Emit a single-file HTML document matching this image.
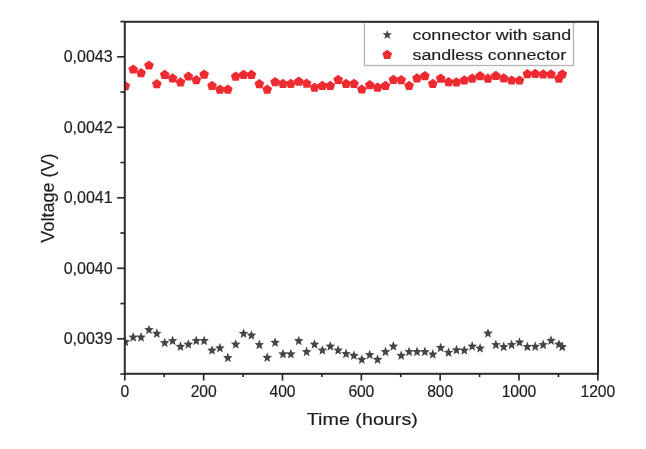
<!DOCTYPE html>
<html><head><meta charset="utf-8"><style>
html,body{margin:0;padding:0;background:#fff;}
svg{display:block;filter:blur(0.35px);}
text{font-family:"Liberation Sans",sans-serif;fill:#1e1e1e;stroke:#1e1e1e;stroke-width:0.18px;}
</style></head><body>
<svg width="646" height="449" viewBox="0 0 646 449">
<defs>
<clipPath id="pc"><rect x="125" y="22" width="473" height="352"/></clipPath>
<path id="st" d="M0.00,-4.84 L1.29,-1.39 L4.76,-1.14 L2.09,1.24 L2.94,4.84 L0.00,2.86 L-2.94,4.84 L-2.09,1.24 L-4.76,-1.14 L-1.29,-1.39Z"/>
<path id="pt" d="M0.00,-4.61 L4.85,-1.09 L3.00,4.61 L-3.00,4.61 L-4.85,-1.09Z"/>
</defs>
<rect width="646" height="449" fill="#fff"/>

<g clip-path="url(#pc)">
<g fill="#ef2b32">
<use href="#pt" x="125.30" y="85.60"/>
<use href="#pt" x="133.18" y="69.00"/>
<use href="#pt" x="141.07" y="72.60"/>
<use href="#pt" x="148.95" y="65.00"/>
<use href="#pt" x="156.84" y="83.70"/>
<use href="#pt" x="164.72" y="74.40"/>
<use href="#pt" x="172.60" y="77.90"/>
<use href="#pt" x="180.49" y="81.80"/>
<use href="#pt" x="188.37" y="76.00"/>
<use href="#pt" x="196.26" y="79.70"/>
<use href="#pt" x="204.14" y="74.20"/>
<use href="#pt" x="212.02" y="85.30"/>
<use href="#pt" x="219.91" y="89.20"/>
<use href="#pt" x="227.79" y="89.20"/>
<use href="#pt" x="235.68" y="76.20"/>
<use href="#pt" x="243.56" y="74.30"/>
<use href="#pt" x="251.44" y="74.30"/>
<use href="#pt" x="259.33" y="83.60"/>
<use href="#pt" x="267.21" y="89.20"/>
<use href="#pt" x="275.10" y="81.60"/>
<use href="#pt" x="282.98" y="83.30"/>
<use href="#pt" x="290.86" y="83.30"/>
<use href="#pt" x="298.75" y="81.20"/>
<use href="#pt" x="306.63" y="83.20"/>
<use href="#pt" x="314.52" y="87.20"/>
<use href="#pt" x="322.40" y="85.30"/>
<use href="#pt" x="330.28" y="85.30"/>
<use href="#pt" x="338.17" y="79.40"/>
<use href="#pt" x="346.05" y="83.30"/>
<use href="#pt" x="353.94" y="83.30"/>
<use href="#pt" x="361.82" y="89.00"/>
<use href="#pt" x="369.70" y="84.70"/>
<use href="#pt" x="377.59" y="87.20"/>
<use href="#pt" x="385.47" y="85.30"/>
<use href="#pt" x="393.36" y="79.30"/>
<use href="#pt" x="401.24" y="79.70"/>
<use href="#pt" x="409.12" y="85.30"/>
<use href="#pt" x="417.01" y="77.90"/>
<use href="#pt" x="424.89" y="75.60"/>
<use href="#pt" x="432.78" y="83.40"/>
<use href="#pt" x="440.66" y="78.20"/>
<use href="#pt" x="448.54" y="81.70"/>
<use href="#pt" x="456.43" y="81.90"/>
<use href="#pt" x="464.31" y="79.90"/>
<use href="#pt" x="472.20" y="78.20"/>
<use href="#pt" x="480.08" y="75.70"/>
<use href="#pt" x="487.96" y="78.20"/>
<use href="#pt" x="495.85" y="75.40"/>
<use href="#pt" x="503.73" y="77.80"/>
<use href="#pt" x="511.62" y="80.00"/>
<use href="#pt" x="519.50" y="80.00"/>
<use href="#pt" x="527.38" y="73.70"/>
<use href="#pt" x="535.27" y="73.40"/>
<use href="#pt" x="543.15" y="73.80"/>
<use href="#pt" x="551.04" y="73.80"/>
<use href="#pt" x="558.92" y="78.20"/>
<use href="#pt" x="562.30" y="73.90"/>
</g>
<g fill="#454545">
<use href="#st" x="125.30" y="341.50"/>
<use href="#st" x="133.18" y="336.80"/>
<use href="#st" x="141.07" y="336.80"/>
<use href="#st" x="148.95" y="329.50"/>
<use href="#st" x="156.84" y="333.10"/>
<use href="#st" x="164.72" y="342.50"/>
<use href="#st" x="172.60" y="340.30"/>
<use href="#st" x="180.49" y="346.20"/>
<use href="#st" x="188.37" y="344.00"/>
<use href="#st" x="196.26" y="340.30"/>
<use href="#st" x="204.14" y="340.30"/>
<use href="#st" x="212.02" y="350.00"/>
<use href="#st" x="219.91" y="347.70"/>
<use href="#st" x="227.79" y="357.40"/>
<use href="#st" x="235.68" y="344.00"/>
<use href="#st" x="243.56" y="333.10"/>
<use href="#st" x="251.44" y="335.00"/>
<use href="#st" x="259.33" y="344.30"/>
<use href="#st" x="267.21" y="357.20"/>
<use href="#st" x="275.10" y="342.10"/>
<use href="#st" x="282.98" y="353.70"/>
<use href="#st" x="290.86" y="353.70"/>
<use href="#st" x="298.75" y="340.50"/>
<use href="#st" x="306.63" y="351.40"/>
<use href="#st" x="314.52" y="344.00"/>
<use href="#st" x="322.40" y="350.00"/>
<use href="#st" x="330.28" y="345.90"/>
<use href="#st" x="338.17" y="349.80"/>
<use href="#st" x="346.05" y="353.30"/>
<use href="#st" x="353.94" y="355.20"/>
<use href="#st" x="361.82" y="359.20"/>
<use href="#st" x="369.70" y="354.50"/>
<use href="#st" x="377.59" y="359.20"/>
<use href="#st" x="385.47" y="351.40"/>
<use href="#st" x="393.36" y="345.90"/>
<use href="#st" x="401.24" y="355.20"/>
<use href="#st" x="409.12" y="351.30"/>
<use href="#st" x="417.01" y="351.40"/>
<use href="#st" x="424.89" y="351.40"/>
<use href="#st" x="432.78" y="353.90"/>
<use href="#st" x="440.66" y="347.30"/>
<use href="#st" x="448.54" y="352.10"/>
<use href="#st" x="456.43" y="349.60"/>
<use href="#st" x="464.31" y="350.00"/>
<use href="#st" x="472.20" y="345.90"/>
<use href="#st" x="480.08" y="347.90"/>
<use href="#st" x="487.96" y="333.00"/>
<use href="#st" x="495.85" y="344.30"/>
<use href="#st" x="503.73" y="346.30"/>
<use href="#st" x="511.62" y="344.30"/>
<use href="#st" x="519.50" y="342.00"/>
<use href="#st" x="527.38" y="346.30"/>
<use href="#st" x="535.27" y="346.10"/>
<use href="#st" x="543.15" y="344.30"/>
<use href="#st" x="551.04" y="340.10"/>
<use href="#st" x="558.92" y="344.00"/>
<use href="#st" x="562.30" y="346.30"/>
</g></g>
<rect x="364.5" y="22" width="209" height="43.5" fill="#fff" stroke="#b4b4b4" stroke-width="1.3"/>
<path d="M0.00,-4.52 L1.20,-1.18 L4.76,-1.07 L1.95,1.11 L2.94,4.52 L0.00,2.53 L-2.94,4.52 L-1.95,1.11 L-4.76,-1.07 L-1.20,-1.18Z" transform="translate(387.2,34.4)" fill="#454545"/>
<path d="M0.00,-4.61 L4.85,-1.09 L3.00,4.61 L-3.00,4.61 L-4.85,-1.09Z" transform="translate(387.2,54.4)" fill="#ef2b32"/>
<text transform="translate(412.5,40) scale(1.152,1)" font-size="15.5">connector with sand</text>
<text transform="translate(412.5,59.5) scale(1.152,1)" font-size="15.5">sandless connector</text>
<g stroke="#2b2b2b" stroke-width="2" fill="none">
<rect x="124.8" y="21.8" width="473.2" height="352"/>
<line x1="120.4" y1="21.55" x2="124.8" y2="21.55" stroke-width="1.7"/>
<line x1="117.1" y1="56.80" x2="124.8" y2="56.80" stroke-width="1.7"/>
<line x1="120.4" y1="92.05" x2="124.8" y2="92.05" stroke-width="1.7"/>
<line x1="117.1" y1="127.30" x2="124.8" y2="127.30" stroke-width="1.7"/>
<line x1="120.4" y1="162.55" x2="124.8" y2="162.55" stroke-width="1.7"/>
<line x1="117.1" y1="197.80" x2="124.8" y2="197.80" stroke-width="1.7"/>
<line x1="120.4" y1="233.05" x2="124.8" y2="233.05" stroke-width="1.7"/>
<line x1="117.1" y1="268.30" x2="124.8" y2="268.30" stroke-width="1.7"/>
<line x1="120.4" y1="303.55" x2="124.8" y2="303.55" stroke-width="1.7"/>
<line x1="117.1" y1="338.80" x2="124.8" y2="338.80" stroke-width="1.7"/>
<line x1="120.4" y1="374.05" x2="124.8" y2="374.05" stroke-width="1.7"/>
<line x1="124.80" y1="373.8" x2="124.80" y2="380.6" stroke-width="1.7"/>
<line x1="164.22" y1="373.8" x2="164.22" y2="377.1" stroke-width="1.7"/>
<line x1="203.64" y1="373.8" x2="203.64" y2="380.6" stroke-width="1.7"/>
<line x1="243.06" y1="373.8" x2="243.06" y2="377.1" stroke-width="1.7"/>
<line x1="282.48" y1="373.8" x2="282.48" y2="380.6" stroke-width="1.7"/>
<line x1="321.90" y1="373.8" x2="321.90" y2="377.1" stroke-width="1.7"/>
<line x1="361.32" y1="373.8" x2="361.32" y2="380.6" stroke-width="1.7"/>
<line x1="400.74" y1="373.8" x2="400.74" y2="377.1" stroke-width="1.7"/>
<line x1="440.16" y1="373.8" x2="440.16" y2="380.6" stroke-width="1.7"/>
<line x1="479.58" y1="373.8" x2="479.58" y2="377.1" stroke-width="1.7"/>
<line x1="519.00" y1="373.8" x2="519.00" y2="380.6" stroke-width="1.7"/>
<line x1="558.42" y1="373.8" x2="558.42" y2="377.1" stroke-width="1.7"/>
<line x1="597.84" y1="373.8" x2="597.84" y2="380.6" stroke-width="1.7"/>
</g>
<text x="112.6" y="62.0" font-size="16" text-anchor="end" letter-spacing="0">0,0043</text>
<text x="112.6" y="132.5" font-size="16" text-anchor="end" letter-spacing="0">0,0042</text>
<text x="112.6" y="203.0" font-size="16" text-anchor="end" letter-spacing="0">0,0041</text>
<text x="112.6" y="273.5" font-size="16" text-anchor="end" letter-spacing="0">0,0040</text>
<text x="112.6" y="344.0" font-size="16" text-anchor="end" letter-spacing="0">0,0039</text>
<text x="124.80" y="397" font-size="15.7" text-anchor="middle" letter-spacing="-0.1">0</text>
<text x="203.64" y="397" font-size="15.7" text-anchor="middle" letter-spacing="-0.1">200</text>
<text x="282.48" y="397" font-size="15.7" text-anchor="middle" letter-spacing="-0.1">400</text>
<text x="361.32" y="397" font-size="15.7" text-anchor="middle" letter-spacing="-0.1">600</text>
<text x="440.16" y="397" font-size="15.7" text-anchor="middle" letter-spacing="-0.1">800</text>
<text x="519.00" y="397" font-size="15.7" text-anchor="middle" letter-spacing="-0.1">1000</text>
<text x="597.84" y="397" font-size="15.7" text-anchor="middle" letter-spacing="-0.1">1200</text>
<text transform="translate(362.3,425) scale(1.16,1)" font-size="17" text-anchor="middle">Time (hours)</text>
<text transform="translate(53.6,198.1) rotate(-90)" font-size="18" text-anchor="middle">Voltage (V)</text>
</svg></body></html>
